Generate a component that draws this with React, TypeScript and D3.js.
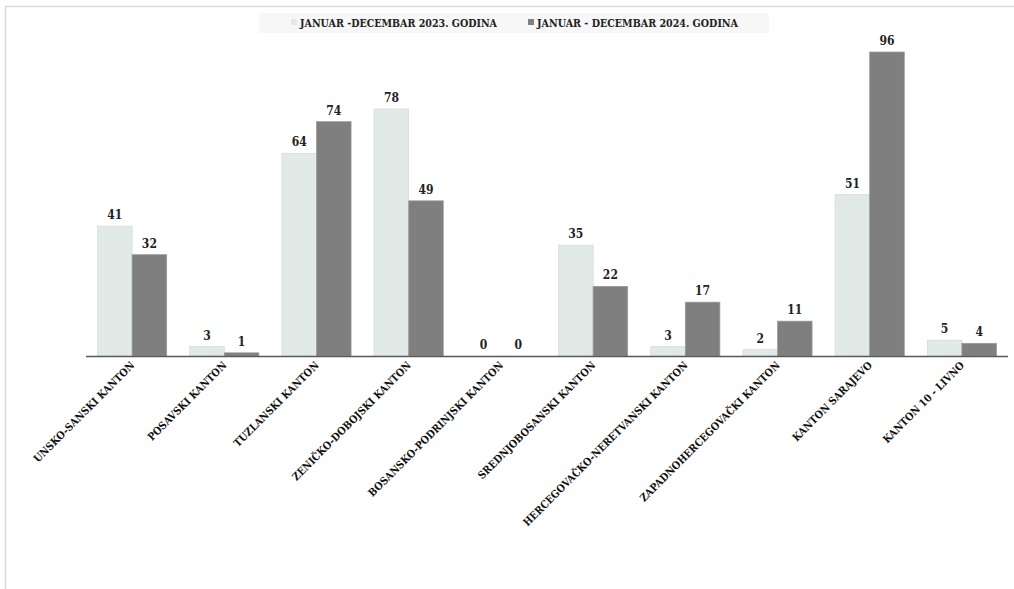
import React from "react";
import * as d3 from "d3";

const categories = [
  "UNSKO-SANSKI KANTON",
  "POSAVSKI KANTON",
  "TUZLANSKI KANTON",
  "ZENIČKO-DOBOJSKI KANTON",
  "BOSANSKO-PODRINJSKI KANTON",
  "SREDNJOBOSANSKI KANTON",
  "HERCEGOVAČKO-NERETVANSKI KANTON",
  "ZAPADNOHERCEGOVAČKI KANTON",
  "KANTON SARAJEVO",
  "KANTON 10 - LIVNO",
];
const series2023 = [41, 3, 64, 78, 0, 35, 3, 2, 51, 5];
const series2024 = [32, 1, 74, 49, 0, 22, 17, 11, 96, 4];
const seriesNames = ["JANUAR -DECEMBAR 2023. GODINA", "JANUAR - DECEMBAR 2024. GODINA"];
const colors = ["#e1eae7", "#7f7f7f"];
const strokes = ["#d3dcd9", "#9a9a9a"];

const W = 1014;
const H = 589;
const FONT = "'DejaVu Serif', 'Liberation Serif', serif";

export default function App() {
  const x0 = d3.scaleBand<string>().domain(categories).range([86, 1008]).paddingInner(0.25).paddingOuter(0.125);
  const x1 = d3.scaleBand<number>().domain([0, 1]).range([0, x0.bandwidth()]);
  const y = d3.scaleLinear().domain([0, 96]).range([356, 52]);
  const data = [series2023, series2024];

  return (
    <svg width={W} height={H} style={{ position: "absolute", left: 0, top: 0, background: "#fff" }} fontFamily={FONT} fontStretch="condensed">
      <rect x={5.5} y={6.5} width={W + 10} height={H + 10} fill="#fff" stroke="#d9d9d9" strokeWidth={1.5} />
      {/* legend */}
      <rect x={259} y={13} width={510} height={20} fill="#f7f7f7" />
      {seriesNames.map((n, i) => {
        const lx = i === 0 ? 291 : 528;
        return (
          <g key={n}>
            <rect x={lx} y={19} width={6} height={6} fill={colors[i]} />
            <text x={lx + 9} y={27} fontSize={11} fontWeight="bold" fill="#222" textLength={i === 0 ? 197 : 201} lengthAdjust="spacingAndGlyphs">{n}</text>
          </g>
        );
      })}
      {/* bars */}
      {categories.map((c, ci) => (
        <g key={c} transform={`translate(${x0(c)},0)`}>
          {data.map((s, si) => {
            const v = s[ci];
            const bx = x1(si)!;
            const bw = x1.bandwidth();
            return (
              <g key={si}>
                {v > 0 && (
                  <rect x={bx} y={y(v)} width={bw} height={y(0) - y(v)} fill={colors[si]} stroke={strokes[si]} strokeWidth={0.75} />
                )}
                <text x={bx + bw / 2} y={y(v) - 7} textAnchor="middle" fontSize={12} fontWeight="bold" fill="#222">{v}</text>
              </g>
            );
          })}
        </g>
      ))}
      {/* axis line */}
      <line x1={86} x2={1008} y1={356.5} y2={356.5} stroke="#595959" strokeWidth={1.5} />
      {/* category labels */}
      {categories.map((c) => {
        const cx = x0(c)! + x0.bandwidth() / 2;
        return (
          <text key={c} transform={`translate(${cx + 3},${366}) rotate(-45)`} textAnchor="end" fontSize={10.5} fontWeight="bold" fill="#111">
            {c}
          </text>
        );
      })}
    </svg>
  );
}
